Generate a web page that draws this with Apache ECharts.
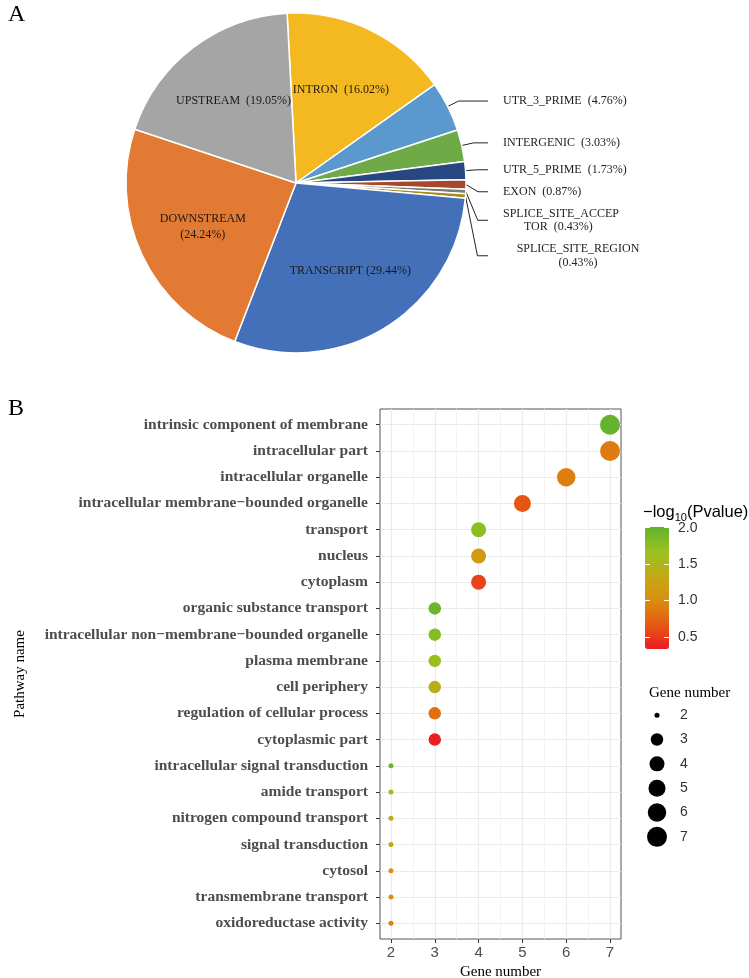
<!DOCTYPE html>
<html><head><meta charset="utf-8">
<script src="https://cdn.jsdelivr.net/npm/echarts@6/dist/echarts.min.js"></script>
<style>html,body{margin:0;padding:0;background:#fff}#c{width:749px;height:978px}</style>
</head><body><div id="c"></div>
<script>
// ---------- Panel A data ----------
const PIE_NAMES = ['INTRON','UTR_3_PRIME','INTERGENIC','UTR_5_PRIME','EXON','SPLICE_SITE_ACCEPTOR','SPLICE_SITE_REGION','TRANSCRIPT','DOWNSTREAM','UPSTREAM'];
const PIE_VALUES = [16.02, 4.76, 3.03, 1.73, 0.87, 0.43, 0.43, 29.44, 24.24, 19.05];
const PIE_LABELS = ['INTRON  (16.02%)','{l|UTR_3_PRIME  (4.76%)}','{l|INTERGENIC  (3.03%)}','{l|UTR_5_PRIME  (1.73%)}','{l|EXON  (0.87%)}',
  '{m|SPLICE_SITE_ACCEP}\n{m|       TOR  (0.43%)}','{c|SPLICE_SITE_REGION}\n{c|(0.43%)}','TRANSCRIPT (29.44%)','DOWNSTREAM\n(24.24%)','UPSTREAM  (19.05%)'];
const PIE_OUTSIDE = [false, true, true, true, true, true, true, false, false, false];
const PIE_COLORS = ['#F4B920','#5A98CE','#6EAB46','#264780','#A5492A','#7A7A7A','#A8891E','#4470BA','#E37A33','#A5A5A5'];

// ---------- Panel B data ----------
const PATHWAYS = ['intrinsic component of membrane','intracellular part','intracellular organelle','intracellular membrane\u2212bounded organelle',
  'transport','nucleus','cytoplasm','organic substance transport','intracellular non\u2212membrane\u2212bounded organelle','plasma membrane',
  'cell periphery','regulation of cellular process','cytoplasmic part','intracellular signal transduction','amide transport',
  'nitrogen compound transport','signal transduction','cytosol','transmembrane transport','oxidoreductase activity'];
const GENES = [7, 7, 6, 5, 4, 4, 4, 3, 3, 3, 3, 3, 3, 2, 2, 2, 2, 2, 2, 2];
const LOGP = [2.0, 0.88, 0.9, 0.65, 1.75, 1.15, 0.55, 1.95, 1.8, 1.65, 1.4, 0.8, 0.35, 1.95, 1.6, 1.35, 1.3, 1.05, 1.0, 0.95];
const X_TICKS = [2, 3, 4, 5, 6, 7];
const X_MINOR = [2.5, 3.5, 4.5, 5.5, 6.5];
const COLORBAR_TICKS = [0.5, 1.0, 1.5, 2.0];
const SIZE_LEGEND = [2, 3, 4, 5, 6, 7];

// styles
const SIZE_PX = {2: 5, 3: 12.5, 4: 15, 5: 17, 6: 18.5, 7: 20};
const GRAD = ['#EC1B23', '#E55A14', '#DA8E0D', '#C2AA16', '#98C21F', '#62B22E'];
const SERIF = 'Liberation Serif', SANS = 'Liberation Sans';
const LBL = {fontFamily: SERIF, fontSize: 12, color: '#222'};

const outerData = PIE_NAMES.map((n, i) => ({
  name: n, value: PIE_VALUES[i],
  itemStyle: {color: PIE_COLORS[i]},
  label: {show: PIE_OUTSIDE[i]},
  labelLine: {show: PIE_OUTSIDE[i]}
}));
const innerData = PIE_NAMES.map((n, i) => ({
  name: n, value: PIE_VALUES[i],
  label: {show: !PIE_OUTSIDE[i]}
}));

const chart = echarts.init(document.getElementById('c'), null, {renderer: 'canvas'});
chart.setOption({
  backgroundColor: '#fff',
  animation: false,
  title: [
    {text: 'A', left: 3, top: -2, textStyle: {fontFamily: SERIF, fontSize: 24, fontWeight: 'normal', color: '#000'}},
    {text: 'B', left: 3, top: 392, textStyle: {fontFamily: SERIF, fontSize: 24, fontWeight: 'normal', color: '#000'}},
    {text: '{a|\u2212log}{b|10}{a|(Pvalue)}', left: 638, top: 497,
      textStyle: {fontWeight: 'normal', rich: {
        a: {fontFamily: SANS, fontSize: 16.5, fontWeight: 'normal', color: '#000'},
        b: {fontFamily: SANS, fontSize: 11, fontWeight: 'normal', color: '#000', padding: [10, 0, 0, 0]}}}},
    {text: 'Gene number', left: 644, top: 681, textStyle: {fontFamily: SERIF, fontSize: 15, fontWeight: 'normal', color: '#000'}}
  ],
  grid: [
    {left: 380, top: 409, width: 241, height: 530, show: true, borderColor: '#555', borderWidth: 1, backgroundColor: '#fff', outerBoundsMode: 'none', containLabel: false},
    {left: 645, top: 703, width: 24, height: 146, outerBoundsMode: 'none', containLabel: false},
    {left: 645, top: 527, width: 24, height: 122, outerBoundsMode: 'none', containLabel: false}
  ],
  xAxis: [
    {gridIndex: 0, type: 'value', min: 1.75, max: 7.25, position: 'bottom',
      axisLine: {show: false, onZero: false},
      axisTick: {show: true, customValues: X_TICKS, length: 4, lineStyle: {color: '#333'}},
      axisLabel: {customValues: X_TICKS, fontFamily: SANS, fontSize: 15, color: '#4d4d4d', margin: 6},
      splitLine: {show: true, lineStyle: {color: '#EBEBEB', width: 1.2}},
      name: 'Gene number', nameLocation: 'middle', nameGap: 23,
      nameTextStyle: {fontFamily: SERIF, fontSize: 15, color: '#000'}},
    {gridIndex: 0, type: 'value', min: 1.75, max: 7.25, position: 'bottom',
      axisLine: {show: false, onZero: false}, axisLabel: {show: false},
      axisTick: {show: false, customValues: X_MINOR},
      splitLine: {show: true, lineStyle: {color: '#F0F0F0', width: 0.8}}},
    {gridIndex: 1, type: 'value', min: -1, max: 1, show: false, axisLine: {onZero: false}},
    {gridIndex: 2, type: 'value', min: 0, max: 1, show: false, axisLine: {onZero: false}}
  ],
  yAxis: [
    {gridIndex: 0, type: 'value', inverse: true, min: -0.6, max: PATHWAYS.length - 0.4,
      axisLine: {show: false, onZero: false},
      axisTick: {show: true, customValues: PATHWAYS.map((p, i) => i), length: 4, lineStyle: {color: '#333'}},
      axisLabel: {customValues: PATHWAYS.map((p, i) => i), formatter: v => PATHWAYS[Math.round(v)],
        fontFamily: SERIF, fontWeight: 'bold', fontSize: 15.5, color: '#4d4d4d', margin: 12},
      splitLine: {show: true, lineStyle: {color: '#EBEBEB', width: 1.2}},
      name: 'Pathway name', nameLocation: 'middle', nameGap: 352, nameRotate: 90,
      nameTextStyle: {fontFamily: SERIF, fontSize: 15, color: '#000'}},
    {gridIndex: 1, type: 'category', data: SIZE_LEGEND.map(String), inverse: true, position: 'right',
      axisLine: {show: false, onZero: false}, axisTick: {show: false}, splitLine: {show: false},
      axisLabel: {fontFamily: SANS, fontSize: 14, color: '#333', margin: 11}},
    {gridIndex: 2, type: 'value', min: 0.335, max: 2.01, position: 'right', z: 10,
      axisLine: {show: false, onZero: false}, splitLine: {show: false},
      axisTick: {show: true, inside: true, length: 5, customValues: COLORBAR_TICKS, lineStyle: {color: '#fff', width: 1}},
      axisLabel: {customValues: COLORBAR_TICKS, formatter: v => v.toFixed(1), fontFamily: SANS, fontSize: 14, color: '#333', margin: 9}},
    {gridIndex: 2, type: 'value', min: 0.335, max: 2.01, position: 'left', z: 10,
      axisLine: {show: false, onZero: false}, splitLine: {show: false}, axisLabel: {show: false},
      axisTick: {show: true, inside: true, length: 5, customValues: COLORBAR_TICKS, lineStyle: {color: '#fff', width: 1}}}
  ],
  visualMap: [{
    type: 'continuous', seriesIndex: 2, dimension: 2, min: 0.335, max: 2.01,
    inRange: {color: GRAD}, left: 645, top: 527, itemWidth: 24, itemHeight: 122,
    padding: 0, calculable: false, hoverLink: false, orient: 'vertical'
  }],
  series: [
    {type: 'pie', center: [296, 183], radius: [0, 170], startAngle: 93, clockwise: true, silent: true,
      avoidLabelOverlap: true,
      itemStyle: {borderColor: '#fff', borderWidth: 1.5},
      label: {position: 'outside', alignTo: 'edge', edgeDistance: 96, distanceToLabelLine: 15, minMargin: 10,
        formatter: p => PIE_LABELS[p.dataIndex], ...LBL,
        rich: {
          l: {...LBL, width: 150, align: 'left', lineHeight: 20},
          m: {...LBL, width: 150, align: 'left', lineHeight: 13},
          c: {...LBL, width: 150, align: 'center', lineHeight: 14}
        }},
      labelLine: {length: 12, length2: 6, lineStyle: {color: '#222', width: 1}},
      data: outerData},
    {type: 'pie', center: [296, 183], radius: [30, 170], startAngle: 93, clockwise: true, silent: true,
      itemStyle: {color: 'rgba(0,0,0,0)', borderWidth: 0},
      label: {position: 'inside', formatter: p => PIE_LABELS[p.dataIndex], ...LBL, color: '#1a1a1a', lineHeight: 16},
      labelLine: {show: false},
      data: innerData},
    {type: 'scatter', xAxisIndex: 0, yAxisIndex: 0, symbol: 'circle',
      itemStyle: {opacity: 1},
      symbolSize: d => SIZE_PX[d[0]],
      data: PATHWAYS.map((p, i) => [GENES[i], i, LOGP[i]])},
    {type: 'scatter', xAxisIndex: 2, yAxisIndex: 1, symbol: 'circle', silent: true,
      itemStyle: {color: '#000', opacity: 1},
      symbolSize: d => SIZE_PX[+d[1]],
      data: SIZE_LEGEND.map(g => [0, String(g)])}
  ]
});
</script></body></html>
